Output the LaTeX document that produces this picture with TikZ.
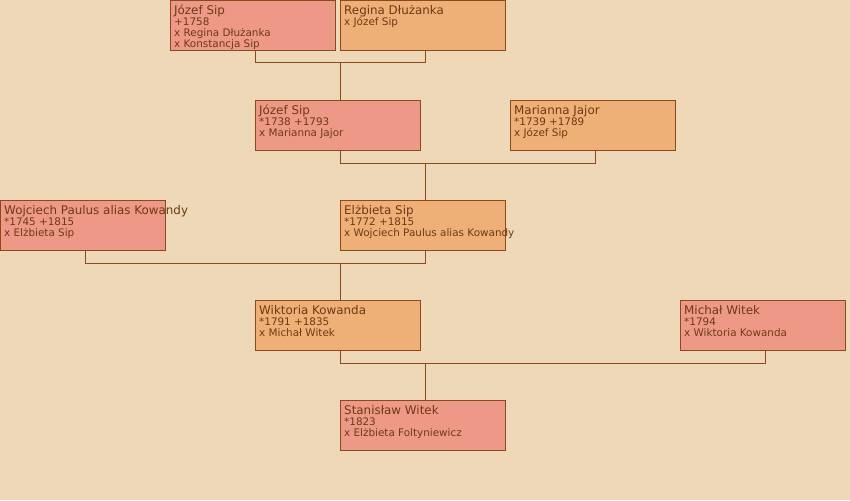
\documentclass[tikz,border=0pt]{standalone}
\usepackage{fontspec}
\setmainfont{DejaVu Sans}
\usepackage{xcolor}
\usetikzlibrary{positioning, calc}

\definecolor{bgtan}{HTML}{EED8B8}
\definecolor{malebox}{HTML}{EE9988}
\definecolor{femalebox}{HTML}{EEB077}
\definecolor{edgebrown}{HTML}{8B4A1C}
\definecolor{inkbrown}{HTML}{6E3A14}

\newcommand{\pname}[1]{{\fontsize{11.9}{11}\selectfont #1}}

\begin{document}
\begin{tikzpicture}[x=1pt, y=-1pt,
    person/.style={draw=edgebrown, line width=1pt, minimum width=165pt, minimum height=50pt, anchor=north west, inner sep=0pt},
    info/.style={anchor=north west, align=left, inner sep=0pt, text=inkbrown, font=\fontsize{10.4}{11}\selectfont},
    link/.style={draw=edgebrown, line width=1pt}
]
    \fill[bgtan] (0,0) rectangle (850,500);
    \useasboundingbox (0,0) rectangle (850,500);

    % generation 1
    \node[person, fill=malebox] (jozefA) at (170,0) {};
    \node[info] (jozefAtxt) at ($(jozefA.north west)+(4,5)$) {\pname{Józef Sip}\\+1758\\x Regina Dłużanka\\x Konstancja Sip};
    \node[person, fill=femalebox] (regina) at (340,0) {};
    \node[info] (reginatxt) at ($(regina.north west)+(4,5)$) {\pname{Regina Dłużanka}\\x Józef Sip};

    % generation 2
    \node[person, fill=malebox] (jozefB) at (255,100) {};
    \node[info] (jozefBtxt) at ($(jozefB.north west)+(4,5)$) {\pname{Józef Sip}\\*1738 +1793\\x Marianna Jajor};
    \node[person, fill=femalebox] (marianna) at (510,100) {};
    \node[info] (mariannatxt) at ($(marianna.north west)+(4,5)$) {\pname{Marianna Jajor}\\*1739 +1789\\x Józef Sip};

    % generation 3
    \node[person, fill=malebox] (wojciech) at (0,200) {};
    \node[info] (wojciechtxt) at ($(wojciech.north west)+(4,5)$) {\pname{Wojciech Paulus alias Kowandy}\\*1745 +1815\\x Elżbieta Sip};
    \node[person, fill=femalebox] (elzbieta) at (340,200) {};
    \node[info] (elzbietatxt) at ($(elzbieta.north west)+(4,5)$) {\pname{Elżbieta Sip}\\*1772 +1815\\x Wojciech Paulus alias Kowandy};

    % generation 4
    \node[person, fill=femalebox] (wiktoria) at (255,300) {};
    \node[info] (wiktoriatxt) at ($(wiktoria.north west)+(4,5)$) {\pname{Wiktoria Kowanda}\\*1791 +1835\\x Michał Witek};
    \node[person, fill=malebox] (michal) at (680,300) {};
    \node[info] (michaltxt) at ($(michal.north west)+(4,5)$) {\pname{Michał Witek}\\*1794\\x Wiktoria Kowanda};

    % generation 5
    \node[person, fill=malebox] (stanislaw) at (340,400) {};
    \node[info] (stanislawtxt) at ($(stanislaw.north west)+(4,5)$) {\pname{Stanisław Witek}\\*1823\\x Elżbieta Foltyniewicz};

    % parent links
    \draw[link] ($(jozefA.south)+(2.5,0)$) -- ++(0,12) coordinate (barA) -| ($(regina.south)+(2.5,0)$);
    \draw[link] ($(jozefB.north)+(2.5,0)$) -- ($(jozefB.north |- barA)+(2.5,0)$);
    \draw[link] ($(jozefB.south)+(2.5,0)$) -- ++(0,12) coordinate (barB) -| ($(marianna.south)+(2.5,0)$);
    \draw[link] ($(elzbieta.north)+(2.5,0)$) -- ($(elzbieta.north |- barB)+(2.5,0)$);
    \draw[link] ($(wojciech.south)+(2.5,0)$) -- ++(0,12) coordinate (barC) -| ($(elzbieta.south)+(2.5,0)$);
    \draw[link] ($(wiktoria.north)+(2.5,0)$) -- ($(wiktoria.north |- barC)+(2.5,0)$);
    \draw[link] ($(wiktoria.south)+(2.5,0)$) -- ++(0,12) coordinate (barD) -| ($(michal.south)+(2.5,0)$);
    \draw[link] ($(stanislaw.north)+(2.5,0)$) -- ($(stanislaw.north |- barD)+(2.5,0)$);
\end{tikzpicture}
\end{document}
